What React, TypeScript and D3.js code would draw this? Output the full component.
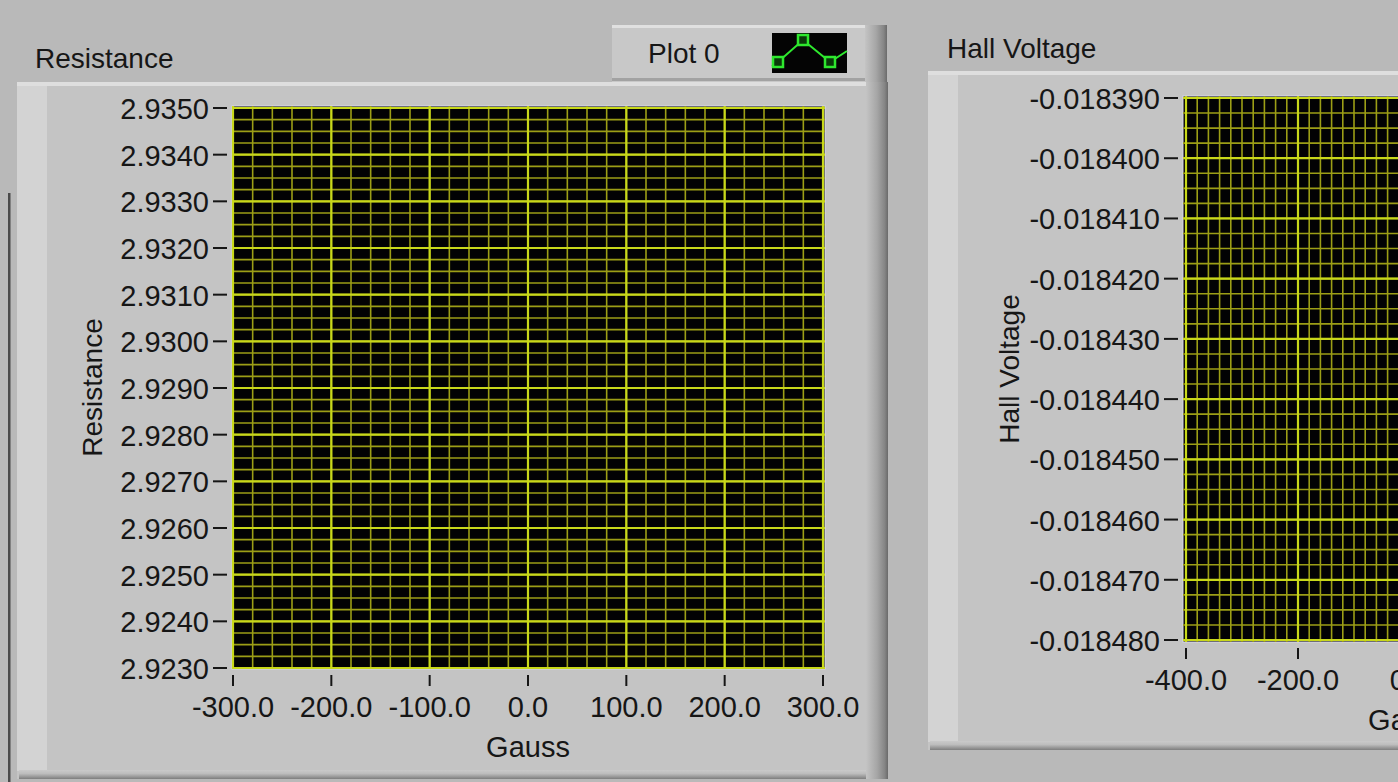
import React, { useEffect, useRef } from 'react';
import * as d3 from 'd3';

// Resistance graph (left)
const resistanceTicks = [2.923, 2.924, 2.925, 2.926, 2.927, 2.928, 2.929, 2.93, 2.931, 2.932, 2.933, 2.934, 2.935];
const resistanceGaussTicks = [-300, -200, -100, 0, 100, 200, 300];
const resistanceMinor = { x: 20, y: 0.00025 };

// Hall voltage graph (right, runs past the window edge)
const hallTicks = [-0.01848, -0.01847, -0.01846, -0.01845, -0.01844, -0.01843, -0.01842, -0.01841, -0.0184, -0.01839];
const hallGaussTicks = [-400, -200, 0, 200, 400];
const hallMinor = { x: 20, y: 0.0000025 };

// "Plot 0" has no points in either graph
const resistancePlot0: [number, number][] = [];
const hallPlot0: [number, number][] = [];

const legendLabel = 'Plot 0';

const locale = d3.formatLocale({ decimal: '.', thousands: ',', grouping: [3], currency: ['', ''], minus: '-' });
const fmt1 = locale.format('.1f');
const fmt4 = locale.format('.4f');
const fmt6 = locale.format('.6f');

const FONT = '"Liberation Sans", Arial, sans-serif';
const INK = '#161616';

function steps(d0, d1, step) {
  const n = Math.round((d1 - d0) / step);
  return d3.range(n + 1).map(i => d0 + i * step);
}

function panel(g, x, y, w, h) {
  g.append('rect').attr('x', x).attr('y', y).attr('width', w).attr('height', h).attr('fill', '#c4c4c4');
  g.append('rect').attr('x', x).attr('y', y).attr('width', w - 12).attr('height', 4).attr('fill', '#dedede');
  g.append('rect').attr('x', x).attr('y', y + 4).attr('width', 30).attr('height', h - 12).attr('fill', '#d3d3d3');
  g.append('rect').attr('x', x + 2).attr('y', y + h - 9).attr('width', w - 4).attr('height', 9).attr('fill', 'url(#bottomShade)');
  g.append('rect').attr('x', x + w - 22).attr('y', y).attr('width', 22).attr('height', h).attr('fill', 'url(#rightShade)');
}

function graph(g, cfg) {
  const { left, right, top, bottom, xScale, yScale, xTicks, yTicks, minor, yFmt, xTitle, yTitle, yTitleX, data } = cfg;
  const xd = xScale.domain();
  const yd = yScale.domain();

  g.append('rect')
    .attr('x', left).attr('y', top)
    .attr('width', right - left).attr('height', bottom - top)
    .attr('fill', '#020204')
    .attr('stroke', '#d8d8ea').attr('stroke-width', 1);

  const grid = g.append('g');
  grid.selectAll('line.mx')
    .data(steps(xd[0], xd[1], minor.x))
    .join('line')
      .attr('x1', d => xScale(d)).attr('x2', d => xScale(d))
      .attr('y1', top).attr('y2', bottom)
      .attr('stroke', '#9c9e16').attr('stroke-width', 1.6);
  grid.selectAll('line.my')
    .data(steps(yd[0], yd[1], minor.y))
    .join('line')
      .attr('y1', d => yScale(d)).attr('y2', d => yScale(d))
      .attr('x1', left).attr('x2', right)
      .attr('stroke', '#9c9e16').attr('stroke-width', 1.6);
  grid.selectAll('line.Mx')
    .data(xTicks)
    .join('line')
      .attr('x1', d => xScale(d)).attr('x2', d => xScale(d))
      .attr('y1', top).attr('y2', bottom)
      .attr('stroke', '#c8d81a').attr('stroke-width', 2.2);
  grid.selectAll('line.My')
    .data(yTicks)
    .join('line')
      .attr('y1', d => yScale(d)).attr('y2', d => yScale(d))
      .attr('x1', left).attr('x2', right)
      .attr('stroke', '#c8d81a').attr('stroke-width', 2.2);

  // plot 0 (empty)
  g.append('path')
    .attr('d', d3.line().x(d => xScale(d[0])).y(d => yScale(d[1]))(data) || '')
    .attr('fill', 'none').attr('stroke', '#2ee82e').attr('stroke-width', 2);

  // y axis
  const ya = g.append('g').attr('font-family', FONT).attr('font-size', 29).attr('fill', INK);
  ya.selectAll('line')
    .data(yTicks)
    .join('line')
      .attr('x1', left - 19).attr('x2', left - 5)
      .attr('y1', d => yScale(d)).attr('y2', d => yScale(d))
      .attr('stroke', INK).attr('stroke-width', 2);
  ya.selectAll('text')
    .data(yTicks)
    .join('text')
      .attr('x', left - 23)
      .attr('y', d => yScale(d) + 11)
      .attr('text-anchor', 'end')
      .text(d => yFmt(d));

  // x axis
  const xa = g.append('g').attr('font-family', FONT).attr('font-size', 29).attr('fill', INK);
  xa.selectAll('line')
    .data(xTicks)
    .join('line')
      .attr('x1', d => xScale(d)).attr('x2', d => xScale(d))
      .attr('y1', bottom + 6).attr('y2', bottom + 17)
      .attr('stroke', INK).attr('stroke-width', 2);
  xa.selectAll('text')
    .data(xTicks)
    .join('text')
      .attr('x', d => xScale(d))
      .attr('y', bottom + 48)
      .attr('text-anchor', 'middle')
      .text(d => fmt1(d));

  g.append('text')
    .attr('x', (xScale.range()[0] + xScale.range()[1]) / 2)
    .attr('y', bottom + 88)
    .attr('text-anchor', 'middle')
    .attr('font-family', FONT).attr('font-size', 29).attr('fill', INK)
    .text(xTitle);

  const my = (top + bottom) / 2;
  g.append('text')
    .attr('transform', `translate(${yTitleX},${my}) rotate(-90)`)
    .attr('text-anchor', 'middle')
    .attr('font-family', FONT).attr('font-size', 28).attr('fill', INK)
    .text(yTitle);
}

export default function App() {
  const ref = useRef(null);

  useEffect(() => {
    const svg = d3.select(ref.current);
    svg.selectAll('*').remove();

    const defs = svg.append('defs');
    const rs = defs.append('linearGradient').attr('id', 'rightShade').attr('x1', 0).attr('x2', 1).attr('y1', 0).attr('y2', 0);
    rs.append('stop').attr('offset', 0).attr('stop-color', '#c4c4c4');
    rs.append('stop').attr('offset', 0.5).attr('stop-color', '#a6a6a6');
    rs.append('stop').attr('offset', 0.85).attr('stop-color', '#858585');
    rs.append('stop').attr('offset', 1).attr('stop-color', '#6a6a6a');
    const bs = defs.append('linearGradient').attr('id', 'bottomShade').attr('x1', 0).attr('x2', 0).attr('y1', 0).attr('y2', 1);
    bs.append('stop').attr('offset', 0).attr('stop-color', '#cacaca');
    bs.append('stop').attr('offset', 0.4).attr('stop-color', '#bdbdbd');
    bs.append('stop').attr('offset', 1).attr('stop-color', '#7e7e7e');

    svg.append('rect').attr('width', 1398).attr('height', 782).attr('fill', '#b9b9b9');
    svg.append('rect').attr('x', 8).attr('y', 193).attr('width', 2.5).attr('height', 589).attr('fill', '#4a4a4a');

    // left graph
    const L = svg.append('g');
    panel(L, 17, 82, 871, 697);
    L.append('text').attr('x', 35).attr('y', 68)
      .attr('font-family', FONT).attr('font-size', 28).attr('fill', INK)
      .text('Resistance');

    // legend
    const lg = svg.append('g');
    lg.append('rect').attr('x', 612).attr('y', 25).attr('width', 275).attr('height', 57).attr('fill', '#c8c8c8');
    lg.append('rect').attr('x', 612).attr('y', 25).attr('width', 262).attr('height', 3).attr('fill', '#e0e0e0');
    lg.append('rect').attr('x', 612).attr('y', 78).attr('width', 262).attr('height', 3).attr('fill', '#a2a2a2');
    lg.append('rect').attr('x', 865).attr('y', 25).attr('width', 22).attr('height', 57).attr('fill', 'url(#rightShade)');
    lg.append('text').attr('x', 648).attr('y', 63)
      .attr('font-family', FONT).attr('font-size', 28).attr('fill', INK)
      .text(legendLabel);
    lg.append('rect').attr('x', 772).attr('y', 33).attr('width', 75).attr('height', 40).attr('fill', '#040404');
    const icon = [[772, 66], [778, 62], [803, 40], [830, 62], [847, 51]];
    lg.append('path')
      .attr('d', d3.line()(icon))
      .attr('fill', 'none').attr('stroke', '#2ee82e').attr('stroke-width', 2);
    lg.selectAll('rect.mk')
      .data(icon.slice(1, 4))
      .join('rect')
        .attr('x', d => d[0] - 5).attr('y', d => d[1] - 5)
        .attr('width', 10).attr('height', 10)
        .attr('fill', '#0a3a0a').attr('stroke', '#2ee82e').attr('stroke-width', 2.5);

    graph(L, {
      left: 232, right: 825, top: 106, bottom: 669,
      xScale: d3.scaleLinear().domain([-300, 300]).range([233, 823]),
      yScale: d3.scaleLinear().domain([2.923, 2.935]).range([668, 108]),
      xTicks: resistanceGaussTicks, yTicks: resistanceTicks, minor: resistanceMinor,
      yFmt: fmt4, xTitle: 'Gauss', yTitle: 'Resistance', yTitleX: 102,
      data: resistancePlot0,
    });

    // right graph
    const R = svg.append('g');
    panel(R, 928, 71, 720, 679);
    R.append('text').attr('x', 947).attr('y', 58)
      .attr('font-family', FONT).attr('font-size', 28).attr('fill', INK)
      .text('Hall Voltage');

    graph(R, {
      left: 1183, right: 1636, top: 96, bottom: 642,
      xScale: d3.scaleLinear().domain([-400, 400]).range([1186, 1634]),
      yScale: d3.scaleLinear().domain([-0.01848, -0.01839]).range([640, 98]),
      xTicks: hallGaussTicks, yTicks: hallTicks, minor: hallMinor,
      yFmt: fmt6, xTitle: 'Gauss', yTitle: 'Hall Voltage', yTitleX: 1019,
      data: hallPlot0,
    });
  }, []);

  return (
    <svg
      ref={ref}
      width={1398}
      height={782}
      style={{ position: 'absolute', left: 0, top: 0, display: 'block' }}
    />
  );
}
